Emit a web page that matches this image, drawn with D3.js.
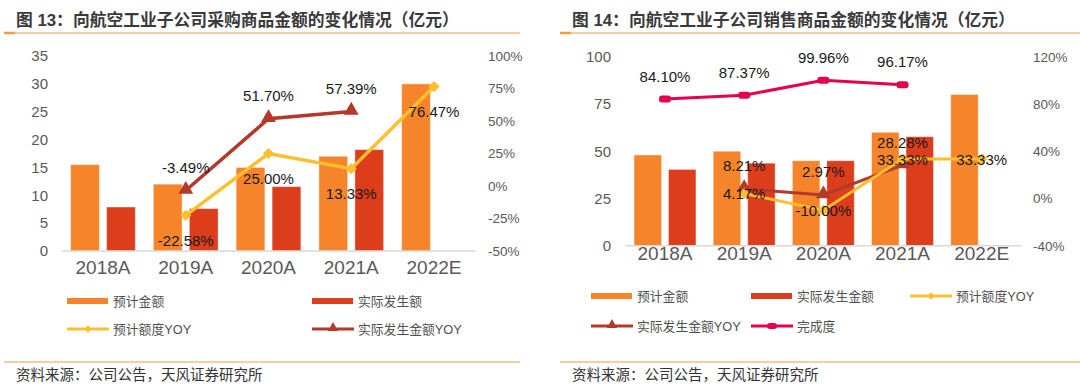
<!DOCTYPE html>
<html>
<head>
<meta charset="utf-8">
<script src="https://cdn.jsdelivr.net/npm/d3@7"></script>
<style>
  html, body { margin: 0; padding: 0; background: #fff; }
  svg { display: block; }
  text { font-family: "Liberation Sans", Arial, "Noto Sans CJK SC", sans-serif; }
  .cjk { font-family: "Liberation Sans", "Noto Sans CJK SC", sans-serif; }
</style>
</head>
<body>
<svg id="chart" width="1080" height="389"></svg>
<script>
// 年份
const years = ['2018A', '2019A', '2020A', '2021A', '2022E']

// 图13 采购
const buyPlan = [15.5, 12, 15, 17, 30]
const buyActual = [7.9, 7.62, 11.56, 18.2, null]
const buyPlanYoy = [null, -22.58, 25.00, 13.33, 76.47]
const buyActualYoy = [null, -3.49, 51.70, 57.39, null]
const buyLeftTicks = [0, 5, 10, 15, 20, 25, 30, 35]
const buyRightTicks = [-50, -25, 0, 25, 50, 75, 100]

// 图14 销售
const salePlan = [48, 50, 45, 60, 80]
const saleActual = [40.37, 43.68, 44.98, 57.7, null]
const salePlanYoy = [null, 4.17, -10.00, 33.33, 33.33]
const saleActualYoy = [null, 8.21, 2.97, 28.28, null]
const saleDone = [84.10, 87.37, 99.96, 96.17, null]
const saleLeftTicks = [0, 25, 50, 75, 100]
const saleRightTicks = [-40, 0, 40, 80, 120]

const C = {
    plan: '#f5842a',
    actual: '#dc3e1c',
    planYoy: '#ffbe2e',
    actualYoy: '#b5392a',
    done: '#e6004f',
    rule: '#f59a45',
    axis: '#595959'
}

const svg = d3.select('#chart')

function headerFooter(x0, x1, tx, title) {
    svg.append('text').attr('class', 'cjk')
        .attr('x', tx).attr('y', 26)
        .attr('font-size', '16.8px').attr('font-weight', 'bold')
        .attr('fill', '#3a3a3a')
        .text(title)
    svg.append('line').attr('x1', x0).attr('x2', x1).attr('y1', 33).attr('y2', 33)
        .attr('stroke', C.rule).attr('stroke-width', 1.2)
    svg.append('line').attr('x1', x0).attr('x2', x0 + 11).attr('y1', 33).attr('y2', 33)
        .attr('stroke', C.rule).attr('stroke-width', 2.5)
    svg.append('line').attr('x1', x0).attr('x2', x1).attr('y1', 362).attr('y2', 362)
        .attr('stroke', C.rule).attr('stroke-width', 1.2)
    svg.append('text').attr('class', 'cjk')
        .attr('x', tx).attr('y', 380)
        .attr('font-size', '14.5px').attr('fill', '#333')
        .text('资料来源：公司公告，天风证券研究所')
}

function marker(g, type, x, y, color, big) {
    if (type === 'diamond') {
        g.append('path')
            .attr('d', d3.symbol(d3.symbolSquare, big ? 62 : 30)())
            .attr('transform', 'translate(' + x + ',' + y + ') rotate(45)')
            .attr('fill', color)
    } else if (type === 'triangle') {
        g.append('path')
            .attr('d', d3.symbol(d3.symbolTriangle, big ? 95 : 45)())
            .attr('transform', 'translate(' + x + ',' + (y - 1) + ')')
            .attr('fill', color)
    } else if (type === 'pill') {
        const w = big ? 12 : 10, h = big ? 7 : 6
        g.append('rect')
            .attr('x', x - w / 2).attr('y', y - h / 2)
            .attr('width', w).attr('height', h).attr('rx', 3)
            .attr('fill', color)
    }
}

function drawChart(cfg) {
    const x = d3.scaleBand().domain(years).range(cfg.xRange)
    const x1 = d3.scaleBand().domain(['plan', 'actual'])
        .range([0, x.bandwidth()]).paddingInner(0.2).paddingOuter(0.25)
    const yL = d3.scaleLinear().domain(cfg.leftDomain).range(cfg.yRange)
    const yR = d3.scaleLinear().domain(cfg.rightDomain).range(cfg.yRange)
    const g = svg.append('g')

    // left axis
    const la = g.append('g')
        .attr('transform', 'translate(' + cfg.leftAxisX + ',0)')
        .call(d3.axisLeft(yL).tickValues(cfg.leftTicks).tickSize(0).tickPadding(0))
    la.select('.domain').remove()
    la.selectAll('text').attr('font-size', '15px').attr('fill', C.axis)
        .attr('font-family', '"Liberation Sans", Arial, sans-serif')

    // right axis
    const ra = g.append('g')
        .attr('transform', 'translate(' + cfg.rightAxisX + ',0)')
        .call(d3.axisRight(yR).tickValues(cfg.rightTicks).tickSize(0).tickPadding(0)
            .tickFormat(d => d + '%'))
    ra.select('.domain').remove()
    ra.selectAll('text').attr('font-size', '13.5px').attr('fill', C.axis)
        .attr('font-family', '"Liberation Sans", Arial, sans-serif')

    // bars
    const series = [['plan', cfg.plan], ['actual', cfg.actual]]
    series.forEach(([key, vals]) => {
        g.selectAll('rect.' + key)
            .data(years.map((yr, i) => ({ yr, v: vals[i] })).filter(d => d.v != null))
            .join('rect')
            .attr('class', key)
            .attr('x', d => x(d.yr) + x1(key))
            .attr('y', d => yL(d.v))
            .attr('width', x1.bandwidth())
            .attr('height', d => yL(0) - yL(d.v))
            .attr('fill', C[key])
            .attr('stroke', 'rgba(255,255,255,0.45)')
            .attr('stroke-width', 1)
    })

    // baseline
    g.append('line')
        .attr('x1', cfg.xRange[0]).attr('x2', cfg.xRange[1])
        .attr('y1', yL(0)).attr('y2', yL(0))
        .attr('stroke', '#d9d9d9').attr('stroke-width', 1.5)

    // x labels
    g.selectAll('text.xl')
        .data(years)
        .join('text')
        .attr('class', 'xl')
        .attr('x', d => x(d) + x.bandwidth() / 2)
        .attr('y', yL(0) + cfg.xLabelOffset)
        .attr('text-anchor', 'middle')
        .attr('font-size', '19px').attr('fill', C.axis)
        .text(d => d)

    // lines
    const line = d3.line()
        .defined(d => d.v != null)
        .x(d => x(d.yr) + x.bandwidth() / 2)
        .y(d => yR(d.v))

    cfg.lines.forEach(s => {
        const pts = years.map((yr, i) => ({ yr, v: s.values[i] }))
        g.append('path')
            .datum(pts)
            .attr('fill', 'none')
            .attr('stroke', s.color)
            .attr('stroke-width', s.width)
            .attr('d', line)
        pts.filter(d => d.v != null).forEach(d => {
            marker(g, s.marker, x(d.yr) + x.bandwidth() / 2, yR(d.v), s.color, true)
        })
    })

    // data labels drawn last
    cfg.lines.forEach(s => {
        years.forEach((yr, i) => {
            const v = s.values[i]
            if (v == null) return
            g.append('text')
                .attr('x', x(yr) + x.bandwidth() / 2)
                .attr('y', yR(v) + s.labelDy)
                .attr('text-anchor', 'middle')
                .attr('dominant-baseline', 'central')
                .attr('font-size', '15px').attr('fill', '#1a1a1a')
                .text(v.toFixed(2) + '%')
        })
    })

    // legend
    cfg.legend.forEach(it => {
        const lg = g.append('g')
        if (it.kind === 'bar') {
            lg.append('rect')
                .attr('x', it.x).attr('y', it.y - 3)
                .attr('width', 41).attr('height', 6)
                .attr('fill', it.color)
        } else {
            lg.append('line')
                .attr('x1', it.x).attr('x2', it.x + 42)
                .attr('y1', it.y).attr('y2', it.y)
                .attr('stroke', it.color).attr('stroke-width', 3)
            marker(lg, it.marker, it.x + 21, it.y, it.color, false)
        }
        lg.append('text').attr('class', 'cjk')
            .attr('x', it.x + 46).attr('y', it.y)
            .attr('dominant-baseline', 'central')
            .attr('font-size', '12.8px').attr('fill', '#505050')
            .text(it.label)
    })
}

headerFooter(4, 520, 16, '图 13：向航空工业子公司采购商品金额的变化情况（亿元）')
headerFooter(560, 1080, 572, '图 14：向航空工业子公司销售商品金额的变化情况（亿元）')

drawChart({
    xRange: [61.6, 475.4],
    yRange: [251, 56],
    leftDomain: [0, 35],
    rightDomain: [-50, 100],
    leftTicks: buyLeftTicks,
    rightTicks: buyRightTicks,
    leftAxisX: 48,
    rightAxisX: 488,
    xLabelOffset: 23,
    plan: buyPlan,
    actual: buyActual,
    lines: [
        { values: buyPlanYoy, color: C.planYoy, width: 3.5, marker: 'diamond', labelDy: 25 },
        { values: buyActualYoy, color: C.actualYoy, width: 3.5, marker: 'triangle', labelDy: -23 }
    ],
    legend: [
        { kind: 'bar', x: 67, y: 301, color: C.plan, label: '预计金额' },
        { kind: 'bar', x: 312, y: 301, color: C.actual, label: '实际发生额' },
        { kind: 'line', x: 67, y: 329, color: C.planYoy, marker: 'diamond', label: '预计额度YOY' },
        { kind: 'line', x: 312, y: 329, color: C.actualYoy, marker: 'triangle', label: '实际发生金额YOY' }
    ]
})

drawChart({
    xRange: [625.4, 1021.3],
    yRange: [245.7, 56.7],
    leftDomain: [0, 100],
    rightDomain: [-40, 120],
    leftTicks: saleLeftTicks,
    rightTicks: saleRightTicks,
    leftAxisX: 611,
    rightAxisX: 1033,
    xLabelOffset: 14,
    plan: salePlan,
    actual: saleActual,
    lines: [
        { values: saleDone, color: C.done, width: 3, marker: 'pill', labelDy: -23 },
        { values: saleActualYoy, color: C.actualYoy, width: 3, marker: 'triangle', labelDy: -23 },
        { values: salePlanYoy, color: C.planYoy, width: 3, marker: 'diamond', labelDy: 0 }
    ],
    legend: [
        { kind: 'bar', x: 591, y: 296, color: C.plan, label: '预计金额' },
        { kind: 'bar', x: 751, y: 296, color: C.actual, label: '实际发生金额' },
        { kind: 'line', x: 910, y: 296, color: C.planYoy, marker: 'diamond', label: '预计额度YOY' },
        { kind: 'line', x: 591, y: 326, color: C.actualYoy, marker: 'triangle', label: '实际发生金额YOY' },
        { kind: 'line', x: 751, y: 326, color: C.done, marker: 'pill', label: '完成度' }
    ]
})
</script>
</body>
</html>
